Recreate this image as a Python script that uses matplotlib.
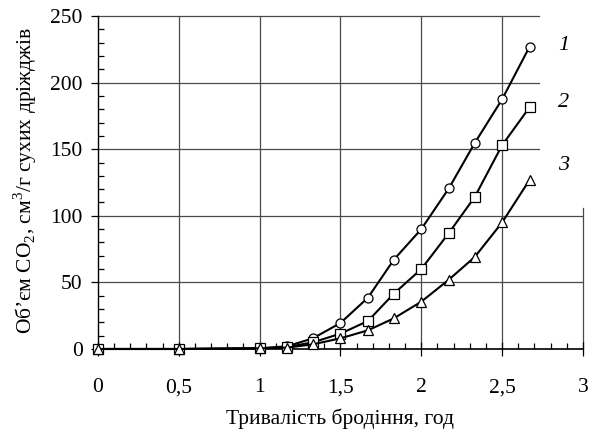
import numpy as np
import matplotlib
matplotlib.use("Agg")
import matplotlib.pyplot as plt
from matplotlib.ticker import MultipleLocator, FixedLocator

plt.rcParams['font.family'] = ['Liberation Serif', 'DejaVu Serif']
plt.rcParams['mathtext.fontset'] = 'custom'
plt.rcParams['mathtext.rm'] = 'Liberation Serif'

# fermentation time, h
hours = [0, 0.5, 1, 1.17, 1.33, 1.5, 1.67, 1.83, 2, 2.17, 2.33, 2.5, 2.67]
# CO2 volume, cm3 per g of dry yeast
co2_1 = [0, 0, 0.5, 2, 8, 19.5, 38.5, 67, 90, 120.5, 154.5, 187.5, 227]
co2_2 = [0, 0, 0.5, 1.5, 5, 11.5, 21, 41.5, 60, 87, 114, 153, 181.5]
co2_3 = [0, 0, 0.5, 1, 3.5, 8, 14, 23, 35.5, 52, 69, 95, 127]
curve_names = ["1", "2", "3"]
name_y = [228, 185, 138]

x_ticks = [0, 0.5, 1, 1.5, 2, 2.5, 3]
x_labels = ["0", "0,5", "1", "1,5", "2", "2,5", "3"]
y_ticks = [0, 50, 100, 150, 200, 250]

fs = 15.5

fig = plt.figure(figsize=(5.97, 4.37), dpi=100)
ax = fig.add_axes([0.164, 0.2014, 0.8125, 0.762])
ax.set_xlim(0, 3)
ax.set_ylim(0, 250)

# grid, the top right corner is left open for the curve numbers
gc = '#4a4a4a'
for xv in x_ticks[1:-1]:
    ax.plot([xv, xv], [0, 250], color=gc, lw=0.9, zorder=1)
ax.plot([3, 3], [0, 106], color=gc, lw=0.9, zorder=1, clip_on=False)
for yv in [50, 100]:
    ax.plot([0, 3], [yv, yv], color=gc, lw=0.9, zorder=1)
for yv in [150, 200, 250]:
    ax.plot([0, 2.73], [yv, yv], color=gc, lw=0.9, zorder=1, clip_on=False)

ms = 6.5
ax.plot(hours, co2_1, color='black', lw=1.5, marker='o', ms=ms, mfc='white', mec='black', mew=0.9, clip_on=False, zorder=3)
ax.plot(hours, co2_2, color='black', lw=1.5, marker='s', ms=ms, mfc='white', mec='black', mew=0.9, clip_on=False, zorder=3)
ax.plot(hours, co2_3, color='black', lw=1.5, marker='^', ms=ms + 1, mfc='white', mec='black', mew=0.9, clip_on=False, zorder=3)

for name, yv in zip(curve_names, name_y):
    ax.text(2.88, yv, name, fontsize=fs + 0.5, style='italic', ha='center', va='center')

for s in ['top', 'right']:
    ax.spines[s].set_visible(False)
ax.spines['left'].set_linewidth(1.0)
ax.spines['bottom'].set_linewidth(1.2)
ax.spines['left'].set_zorder(2)

ax.xaxis.set_major_locator(FixedLocator(x_ticks))
ax.set_xticklabels(x_labels)
ax.xaxis.set_minor_locator(MultipleLocator(0.1))
ax.yaxis.set_major_locator(FixedLocator(y_ticks))
ax.yaxis.set_minor_locator(MultipleLocator(10))

ax.tick_params(axis='x', which='major', direction='inout', length=10, width=0.9, pad=16, labelsize=fs)
ax.tick_params(axis='x', which='minor', direction='in', length=4, width=0.9)
ax.tick_params(axis='y', which='major', direction='out', length=5, width=0.9, pad=6, labelsize=fs)
ax.tick_params(axis='y', which='minor', direction='in', length=4, width=0.9)

fig.text(0.57, 0.042, "Тривалість бродіння, год", fontsize=fs, ha='center', va='center')
fig.text(0.042, 0.587, "Об’єм CO$_\\mathregular{2}$, см$^\\mathregular{3}$/г сухих дріжджів",
         fontsize=fs, rotation=90, ha='center', va='center')

fig.savefig("out.png", dpi=100)
